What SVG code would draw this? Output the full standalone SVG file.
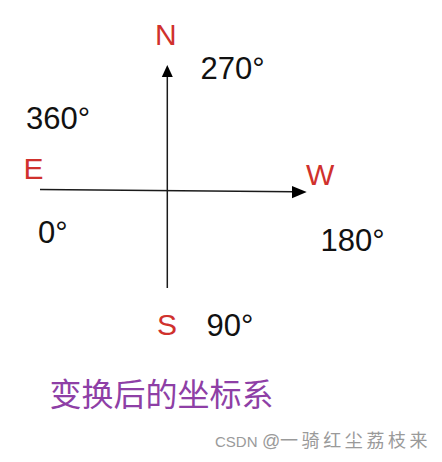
<svg xmlns="http://www.w3.org/2000/svg" width="442" height="462" viewBox="0 0 442 462">
<style>
.dir{font-family:"Liberation Sans",Arial,sans-serif;font-size:30px;fill:#D0312D}
.deg{font-family:"Liberation Sans",Arial,sans-serif;font-size:31px;fill:#111}
.axis{stroke:#1a1a1a;stroke-width:1.5;fill:none}
.head{fill:#000}
.cap{font-family:"Noto Sans CJK SC",sans-serif;font-size:32px;fill:#8E3FA6}
.wm{font-family:"Liberation Sans",Arial,"Noto Sans CJK SC",sans-serif;font-size:15px;fill:#9a9a9a}
</style>
<rect width="442" height="462" fill="#fff"/>
<g id="connectors">
<line class="axis" x1="167.3" y1="76" x2="167.3" y2="288"/>
<polygon class="head" points="167.3,65 161.8,77 172.8,77"/>
<line class="axis" x1="40" y1="189.5" x2="294" y2="191.8"/>
<polygon class="head" points="306.7,192 292,186 292,198.3"/>
</g>
<g id="N"><text class="dir" x="155" y="45">N</text></g>
<g id="E"><text class="dir" x="23.5" y="179">E</text></g>
<g id="W"><text class="dir" x="306" y="185">W</text></g>
<g id="S"><text class="dir" x="157" y="334.5">S</text></g>
<g id="deg270"><text class="deg" x="200.5" y="79">270°</text></g>
<g id="deg360"><text class="deg" x="26" y="129.3">360°</text></g>
<g id="deg0"><text class="deg" x="38" y="243.3">0°</text></g>
<g id="deg180"><text class="deg" x="320.5" y="250.7">180°</text></g>
<g id="deg90"><text class="deg" x="206.5" y="335.5">90°</text></g>
<g id="caption"><text class="cap" x="49.5" y="405.5">变换后的坐标系</text></g>
<g id="watermark"><text class="wm" x="215" y="447.3">CSDN <tspan x="262" font-size="18">@</tspan><tspan x="280" font-size="18" letter-spacing="3.6">一骑红尘荔枝来</tspan></text></g>
</svg>
